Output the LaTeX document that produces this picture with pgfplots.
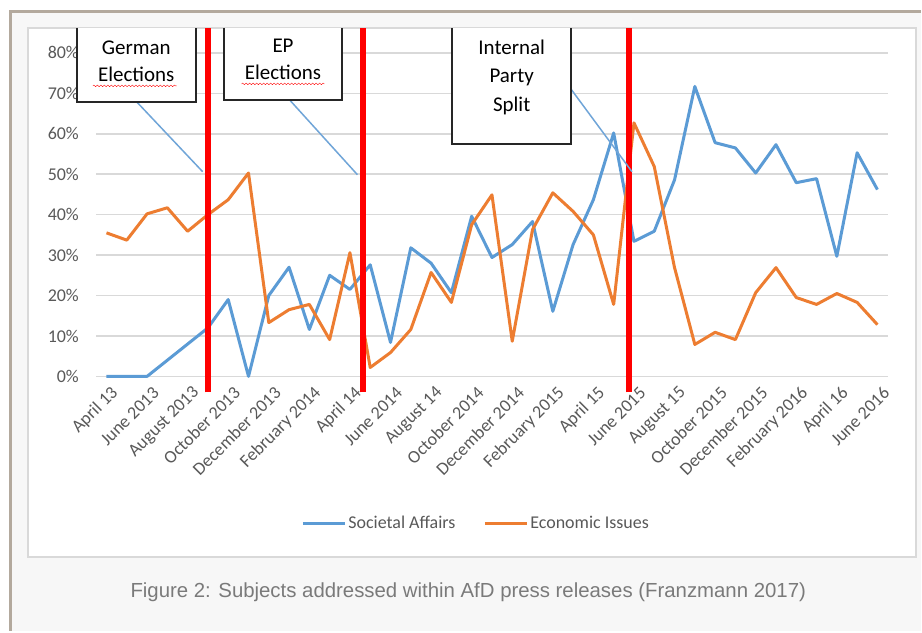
\documentclass[border=0pt]{standalone}
\usepackage{fontspec}
\setmainfont{Carlito}
\newfontfamily\capfont{Liberation Sans}
\usepackage{pgfplots}
\usepackage{pgfplotstable}
\pgfplotsset{compat=1.18}
\usetikzlibrary{decorations.pathmorphing}

\definecolor{socblue}{HTML}{5B9BD5}
\definecolor{ecoorange}{HTML}{ED7D31}
\definecolor{gridgrey}{HTML}{D9D9D9}
\definecolor{ticktext}{HTML}{595959}
\definecolor{framebrown}{HTML}{B3A99D}
\definecolor{panelgrey}{HTML}{F7F7F7}
\definecolor{callout}{HTML}{70A5D8}
\definecolor{captext}{HTML}{7A7A7A}
\definecolor{boxdark}{HTML}{262626}

% month index (0 = April 2013), share of press releases in %
\pgfplotstableread{
idx soc  eco
0   0    35.5
1   0    33.7
2   0    40.2
3   4    41.7
4   8    35.9
5   12   40.0
6   19   43.7
7   0    50.3
8   20   13.3
9   27   16.5
10  11.6 17.8
11  25   9.1
12  21.5 30.6
13  27.6 2.2
14  8.4  5.9
15  31.8 11.6
16  28   25.7
17  20.7 18.3
18  39.6 37.5
19  29.4 44.9
20  32.6 8.7
21  38.3 36.3
22  16.1 45.4
23  32.6 40.8
24  43.7 35.0
25  60.2 17.8
26  33.4 62.7
27  35.9 51.9
28  48.6 26.9
29  71.7 7.9
30  57.8 10.9
31  56.5 9.1
32  50.3 20.7
33  57.3 26.9
34  47.9 19.5
35  48.9 17.8
36  29.7 20.5
37  55.3 18.3
38  46.2 12.8
}\subjects

\begin{document}
\begin{tikzpicture}
% page background, frame and chart area
\fill[white] (0pt,0pt) rectangle (922pt,-632pt);
\fill[panelgrey] (10.5pt,-11.5pt) rectangle (922pt,-632pt);
\draw[framebrown, line width=3pt] (10.5pt,-632pt) -- (10.5pt,-11.5pt) -- (922pt,-11.5pt);
\filldraw[fill=white, draw=gridgrey, line width=1.5pt] (28pt,-28pt) rectangle (917.5pt,-558pt);

\begin{axis}[
  at={(96.5pt,-377pt)}, anchor=south west,
  scale only axis, width=792.5pt, height=324pt,
  xmin=-0.5, xmax=38.5, ymin=0, ymax=80,
  clip=false,
  axis line style={draw=none},
  major tick length=0pt,
  ymajorgrids, grid style={gridgrey, line width=1.5pt},
  ytick={0,10,...,80},
  yticklabel={\pgfmathprintnumber{\tick}\%},
  /pgf/number format/assume math mode=true,
  xtick={0,2,...,38},
  xticklabels={April 13, June 2013, August 2013, October 2013, December 2013,
    February 2014, April 14, June 2014, August 14, October 2014, December 2014,
    February 2015, April 15, June 2015, August 15, October 2015, December 2015,
    February 2016, April 16, June 2016},
  ticklabel style={font=\fontsize{18}{20}\selectfont, text=ticktext},
  yticklabel style={xshift=-14pt},
  xticklabel style={rotate=45, anchor=east, yshift=-16pt},
  legend style={at={(0.48,-0.4537)}, anchor=center, draw=none, fill=none,
    font=\fontsize{18}{20}\selectfont, text=ticktext, legend columns=2,
    /tikz/every even column/.append style={column sep=26pt}},
  legend image code/.code={\draw[#1, line width=3pt] (0pt,0pt) -- (42pt,0pt);},
]
\addplot[socblue, line width=3pt, line join=round] table[x=idx, y=soc] {\subjects};
\addlegendentry{Societal Affairs}
\addplot[ecoorange, line width=3pt, line join=round] table[x=idx, y=eco] {\subjects};
\addlegendentry{Economic Issues}
% event markers
\addplot[red, line width=6pt, forget plot] coordinates {(5,-3.95) (5,86.2)};
\addplot[red, line width=6pt, forget plot] coordinates {(12.65,-3.95) (12.65,86.2)};
\addplot[red, line width=6pt, forget plot] coordinates {(25.75,-3.95) (25.75,86.2)};
\end{axis}

% callouts
\draw[callout, line width=1.5pt] (135pt,-100pt) -- (203pt,-172pt);
\draw[callout, line width=1.5pt] (290pt,-100pt) -- (358pt,-175pt);
\draw[callout, line width=1.5pt] (571pt,-88pt) -- (633pt,-172pt);

% annotation boxes
\filldraw[fill=white, draw=boxdark, line width=2pt] (77pt,-28pt) -- (77pt,-102pt) -- (196pt,-102pt) -- (196pt,-28pt);
\filldraw[fill=white, draw=boxdark, line width=2pt] (224pt,-28pt) -- (224pt,-100pt) -- (343pt,-100pt) -- (343pt,-28pt);
\filldraw[fill=white, draw=boxdark, line width=2pt] (453pt,-28pt) -- (453pt,-144pt) -- (572pt,-144pt) -- (572pt,-28pt);

\begin{scope}[every node/.style={anchor=base, font=\fontsize{21}{25}\selectfont, text=black}]
\node at (136.5pt,-55pt) {German};
\node at (136.5pt,-82pt) {Elections};
\node at (283.5pt,-53pt) {EP};
\node at (283.5pt,-80pt) {Elections};
\node at (512.5pt,-55pt) {Internal};
\node at (512.5pt,-83pt) {Party};
\node at (512.5pt,-112pt) {Split};
\end{scope}
\draw[red, decorate, decoration={snake, amplitude=0.8pt, segment length=3.5pt}] (93pt,-86pt) -- (177pt,-86pt);
\draw[red, decorate, decoration={snake, amplitude=0.8pt, segment length=3.5pt}] (242pt,-84pt) -- (325pt,-84pt);

% caption
\node[anchor=base, font=\capfont\fontsize{20.4}{24}\selectfont, text=captext] at (469pt,-598pt)
  {Figure 2: Subjects addressed within AfD press releases (Franzmann 2017)};
\end{tikzpicture}
\end{document}
